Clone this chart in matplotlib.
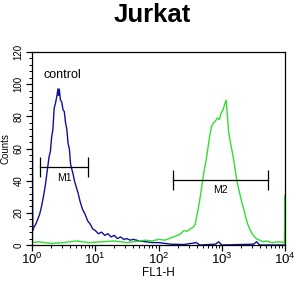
import matplotlib
matplotlib.use("Agg")
import matplotlib.pyplot as plt
import numpy as np
from matplotlib.ticker import FixedLocator, LogLocator, NullFormatter

plt.rcParams["font.family"] = ["Liberation Sans", "DejaVu Sans"]
plt.rcParams["mathtext.fontset"] = "custom"
plt.rcParams["mathtext.rm"] = "Liberation Sans"

# ---- data (log10 of FL1-H, counts) ----
control_logx = [0.000, 0.000, 0.012, 0.03, 0.06, 0.09, 0.12, 0.15, 0.18, 0.21, 0.24,
                0.27, 0.29, 0.31, 0.33, 0.35, 0.37, 0.39, 0.41, 0.42, 0.43, 0.45,
                0.47, 0.49, 0.51, 0.53, 0.55, 0.57, 0.59, 0.61, 0.63, 0.65, 0.67,
                0.70, 0.73, 0.76, 0.80, 0.84, 0.88, 0.92, 0.96, 1.00, 1.05, 1.10,
                1.15, 1.20, 1.25, 1.30, 1.35, 1.40, 1.45, 1.50, 1.55, 1.60, 1.70,
                1.80, 1.90, 2.00, 2.10, 2.20, 2.40, 2.60, 2.65, 2.90, 2.95, 3.00,
                3.50, 3.55, 3.60, 4.00]
control_counts = [0, 130, 9, 11, 13, 16, 19, 24, 30, 37, 46,
                  55, 58, 67, 72, 85, 88, 92, 97, 93, 97, 90,
                  89, 84, 83, 76, 72, 63, 60, 50, 47, 44, 40,
                  36, 32, 27, 22, 19, 15, 13, 10, 9, 7, 8,
                  6, 7, 5, 6, 4, 5, 3.5, 4, 3, 3.5, 2.5,
                  2, 1.5, 1.5, 1, 0.5, 0.3, 1.5, 0, 0.5, 2, 0,
                  0.5, 2, 0, 0]

sample_logx = [0.000, 0.000, 0.012, 0.10, 0.30, 0.50, 0.70, 0.90, 1.10, 1.30, 1.50,
               1.70, 1.80, 1.90, 2.00, 2.10, 2.20, 2.30, 2.35, 2.40, 2.45, 2.50,
               2.55, 2.58, 2.60, 2.63, 2.66, 2.69, 2.72, 2.75, 2.78, 2.81, 2.84,
               2.87, 2.90, 2.93, 2.96, 2.99, 3.02, 3.05, 3.07, 3.09, 3.11, 3.14,
               3.17, 3.20, 3.23, 3.26, 3.29, 3.32, 3.35, 3.38, 3.41, 3.44, 3.48,
               3.52, 3.56, 3.60, 3.65, 3.70, 3.80, 3.90, 3.99, 4.00, 4.00]
sample_counts = [0, 24, 1.5, 2, 1, 1.5, 2.5, 1.5, 2, 2.5, 1.5,
                 2.5, 3, 2.5, 3.5, 3, 4.5, 6, 7, 9, 8.5, 10,
                 11, 13, 17, 23, 30, 38, 46, 52, 60, 68, 74,
                 76, 77, 79, 78, 82, 84, 88, 90, 80, 70, 63,
                 57, 50, 42, 36, 31, 26, 22, 17, 13, 10, 7,
                 5, 3.5, 3, 2, 2.5, 1.5, 2, 1.5, 31, 0]

m1_range = [1.34, 7.7]
m1_y = 48.5
m2_range = [171, 5450]
m2_y = 40.5

y_ticks = [0, 20, 40, 60, 80, 100, 120]

fig = plt.figure(figsize=(3.05, 2.96), dpi=100)
ax = fig.add_axes([0.105, 0.1723, 0.8295, 0.652])

ax.plot(10 ** np.array(control_logx), control_counts, color="#10109a", lw=1.0)
ax.plot(10 ** np.array(sample_logx), sample_counts, color="#33dd33", lw=1.0)

# marker gates
for rng, yv, name in [(m1_range, m1_y, "M1"), (m2_range, m2_y, "M2")]:
    ax.plot(rng, [yv, yv], color="black", lw=0.9)
    ax.vlines(rng, yv - 6, yv + 6, color="black", lw=0.9)
    xc = 10 ** np.mean(np.log10(rng))
    ax.text(xc, yv - 3.5, name, ha="center", va="top", fontsize=7.5)

ax.text(1.5, 106, "control", ha="left", va="center", fontsize=9)

ax.set_xscale("log")
ax.set_xlim(1, 1e4)
ax.set_ylim(0, 120)
ax.set_xticks([1, 10, 100, 1000, 10000])
ax.set_xticklabels([r"$10^{0}$", r"$10^{1}$", r"$10^{2}$", r"$10^{3}$", r"$10^{4}$"],
                   fontsize=9.5)
ax.xaxis.set_minor_locator(LogLocator(base=10, subs=np.arange(2, 10)))
ax.xaxis.set_minor_formatter(NullFormatter())
ax.set_yticks(y_ticks)
ax.set_yticklabels([str(v) for v in y_ticks], rotation=90, va="center", fontsize=7)
ax.yaxis.set_minor_locator(FixedLocator(np.arange(0, 121, 4)))
ax.tick_params(which="major", length=4, width=0.9, pad=2)
ax.tick_params(axis="x", which="major", pad=1)
ax.tick_params(which="minor", length=2, width=0.7)
for sp in ax.spines.values():
    sp.set_linewidth(0.9)

ax.set_xlabel("FL1-H", fontsize=8.5, labelpad=0)
ax.set_ylabel("Counts", fontsize=7, labelpad=2)

fig.text(0.5, 0.949, "Jurkat", ha="center", va="center", fontsize=18.5, fontweight="bold")

fig.savefig("out.png", dpi=100)
